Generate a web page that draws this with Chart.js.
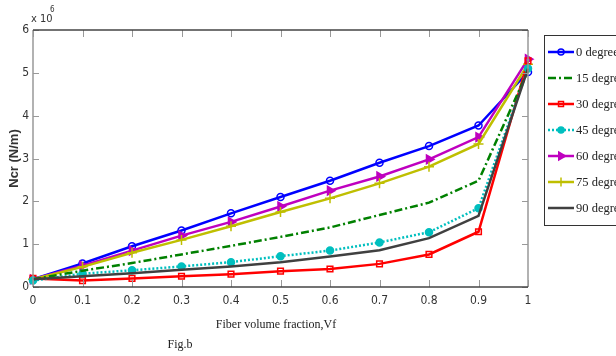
<!DOCTYPE html>
<html>
<head>
<meta charset="utf-8">
<script src="https://cdn.jsdelivr.net/npm/chart.js"></script>
<style>
  html, body { margin: 0; padding: 0; background: #fff; overflow: hidden; }
  #wrap { width: 616px; height: 356px; }
</style>
</head>
<body>
<div id="wrap"><canvas id="myChart" width="616" height="356"></canvas></div>
<script>
// fiber volume fraction (x) and Ncr values (x 10^6 N/m)
var fractions = [0, 0.1, 0.2, 0.3, 0.4, 0.5, 0.6, 0.7, 0.8, 0.9, 1];
var deg0  = [0.18, 0.55, 0.95, 1.32, 1.72, 2.10, 2.48, 2.90, 3.29, 3.77, 5.02];
var deg15 = [0.18, 0.38, 0.56, 0.76, 0.96, 1.17, 1.39, 1.68, 1.97, 2.48, 5.05];
var deg30 = [0.20, 0.15, 0.20, 0.25, 0.30, 0.37, 0.42, 0.54, 0.76, 1.29, 5.28];
var deg45 = [0.15, 0.31, 0.39, 0.48, 0.58, 0.72, 0.85, 1.04, 1.28, 1.84, 5.10];
var deg60 = [0.18, 0.50, 0.85, 1.20, 1.52, 1.88, 2.25, 2.58, 2.98, 3.50, 5.32];
var deg75 = [0.18, 0.47, 0.80, 1.10, 1.42, 1.75, 2.07, 2.42, 2.81, 3.34, 5.20];
var deg90 = [0.18, 0.25, 0.32, 0.40, 0.48, 0.58, 0.71, 0.86, 1.14, 1.66, 5.10];
var seriesNames = ['0 degree', '15 degree', '30 degree', '45 degree', '60 degree', '75 degree', '90 degree'];
var xTicks = [0, 0.1, 0.2, 0.3, 0.4, 0.5, 0.6, 0.7, 0.8, 0.9, 1];
var yTicks = [0, 1, 2, 3, 4, 5, 6];

var narrow = "'DejaVu Sans Condensed', 'Liberation Sans Narrow', 'Liberation Sans', sans-serif";
var serif = "'Liberation Serif', 'Times New Roman', serif";

function pts(vals) {
  return fractions.map(function (f, i) { return { x: f, y: vals[i] }; });
}

function ds(name, vals, color, style, extra) {
  var d = {
    label: name,
    data: pts(vals),
    borderColor: color,
    backgroundColor: color,
    borderWidth: 2.5,
    pointStyle: style,
    pointRadius: style ? 4 : 0,
    pointBorderWidth: 1.5,
    pointBackgroundColor: 'rgba(0,0,0,0)',
    pointBorderColor: color,
    tension: 0,
    clip: 8
  };
  for (var k in extra) d[k] = extra[k];
  return d;
}

var datasets = [
  ds(seriesNames[6], deg90, '#404040', false, {}),
  ds(seriesNames[1], deg15, '#008000', false, { borderDash: [8, 3, 2, 3] }),
  ds(seriesNames[3], deg45, '#00bfbf', 'circle', { borderDash: [2, 2], pointRadius: 3.5, pointBackgroundColor: '#00bfbf' }),
  ds(seriesNames[2], deg30, '#ff0000', 'rect', {}),
  ds(seriesNames[5], deg75, '#bfbf00', 'cross', { pointRadius: 5 }),
  ds(seriesNames[4], deg60, '#bf00bf', 'triangle', { pointRotation: 90, pointBackgroundColor: '#bf00bf', pointRadius: 5 }),
  ds(seriesNames[0], deg0, '#0000ff', 'circle', { pointRadius: 3.5 })
];

// matlab style frame, inward ticks, legend and extra labels
var matlabFrame = {
  id: 'matlabFrame',
  afterDraw: function (chart) {
    var c = chart.ctx, a = chart.chartArea;
    var xs = chart.scales.x, ys = chart.scales.y;
    c.save();
    c.lineWidth = 1;
    c.strokeStyle = '#999';
    xTicks.forEach(function (t) {
      var px = Math.round(xs.getPixelForValue(t)) + 0.5;
      c.beginPath(); c.moveTo(px, a.bottom); c.lineTo(px, a.bottom - 7); c.stroke();
      c.beginPath(); c.moveTo(px, a.top); c.lineTo(px, a.top + 7); c.stroke();
    });
    yTicks.forEach(function (t) {
      var py = Math.round(ys.getPixelForValue(t)) + 0.5;
      c.beginPath(); c.moveTo(a.left, py); c.lineTo(a.left + 6, py); c.stroke();
      c.beginPath(); c.moveTo(a.right, py); c.lineTo(a.right - 6, py); c.stroke();
    });
    c.lineWidth = 1.5;
    c.strokeStyle = '#999';
    c.beginPath(); c.moveTo(a.left, a.top); c.lineTo(a.left, a.bottom); c.stroke();
    c.beginPath(); c.moveTo(a.right, a.top); c.lineTo(a.right, a.bottom); c.stroke();
    c.strokeStyle = '#444';
    c.beginPath(); c.moveTo(a.left, a.top); c.lineTo(a.right, a.top); c.stroke();
    c.beginPath(); c.moveTo(a.left, a.bottom); c.lineTo(a.right, a.bottom); c.stroke();

    // exponent label
    c.fillStyle = '#333';
    c.font = '11px ' + narrow;
    c.textAlign = 'left';
    c.textBaseline = 'alphabetic';
    c.fillText('x 10', a.left - 2, a.top - 8);
    c.font = '8px ' + narrow;
    c.fillText('6', a.left + 17, a.top - 18);

    // axis title and figure caption
    c.fillStyle = '#222';
    c.font = '12px ' + serif;
    c.textAlign = 'center';
    c.textBaseline = 'middle';
    c.fillText('Fiber volume fraction,Vf', 276, 325);
    c.fillText('Fig.b', 180, 345);

    // legend box
    var bx = 544, by = 35, bw = 90, bh = 190;
    c.fillStyle = '#fff';
    c.fillRect(bx, by, bw, bh);
    c.strokeStyle = '#333';
    c.lineWidth = 1;
    c.strokeRect(bx + 0.5, by + 0.5, bw, bh);
    seriesNames.forEach(function (name, i) {
      var d = chart.data.datasets.find(function (s) { return s.label === name; });
      var y = by + 17 + i * 26;
      c.save();
      c.strokeStyle = d.borderColor;
      c.lineWidth = d.borderWidth;
      c.setLineDash(d.borderDash || []);
      c.beginPath(); c.moveTo(bx + 4, y); c.lineTo(bx + 30, y); c.stroke();
      c.setLineDash([]);
      if (d.pointStyle) {
        c.fillStyle = d.pointBackgroundColor;
        c.strokeStyle = d.pointBorderColor;
        c.lineWidth = d.pointBorderWidth;
        Chart.helpers.drawPoint(c, {
          pointStyle: d.pointStyle,
          rotation: d.pointRotation || 0,
          radius: d.pointRadius - 0.5,
          borderWidth: d.pointBorderWidth
        }, bx + 17, y);
      }
      c.restore();
      c.fillStyle = '#222';
      c.font = '12.5px ' + serif;
      c.textAlign = 'left';
      c.textBaseline = 'middle';
      c.fillText(d.label, bx + 32, y + 1);
    });
    c.restore();
  }
};

var ctx = document.getElementById('myChart').getContext('2d');
var myChart = new Chart(ctx, {
  type: 'line',
  data: { datasets: datasets },
  options: {
    responsive: false,
    animation: false,
    layout: { padding: { top: 30, right: 88, left: 0, bottom: 0 } },
    plugins: { legend: { display: false }, tooltip: { enabled: false } },
    scales: {
      x: {
        type: 'linear',
        min: 0, max: 1,
        afterBuildTicks: function (s) { s.ticks = xTicks.map(function (v) { return { value: v }; }); },
        afterFit: function (s) { s.height = 69; },
        grid: { display: false, drawTicks: false },
        border: { display: false },
        ticks: {
          padding: 7,
          color: '#333',
          font: { family: narrow, size: 12 },
          maxRotation: 0,
          callback: function (v) { return String(Math.round(v * 10) / 10); }
        }
      },
      y: {
        type: 'linear',
        min: 0, max: 6,
        afterBuildTicks: function (s) { s.ticks = yTicks.map(function (v) { return { value: v }; }); },
        afterFit: function (s) { s.width = 33; },
        grid: { display: false, drawTicks: false },
        border: { display: false },
        ticks: {
          padding: 4,
          color: '#333',
          font: { family: narrow, size: 12 }
        },
        title: {
          display: true,
          text: 'Ncr (N/m)',
          color: '#333',
          font: { family: "'Liberation Sans', sans-serif", size: 13, weight: 'bold' },
          padding: { top: 7, bottom: 0 }
        }
      }
    }
  },
  plugins: [matlabFrame]
});
</script>
</body>
</html>
